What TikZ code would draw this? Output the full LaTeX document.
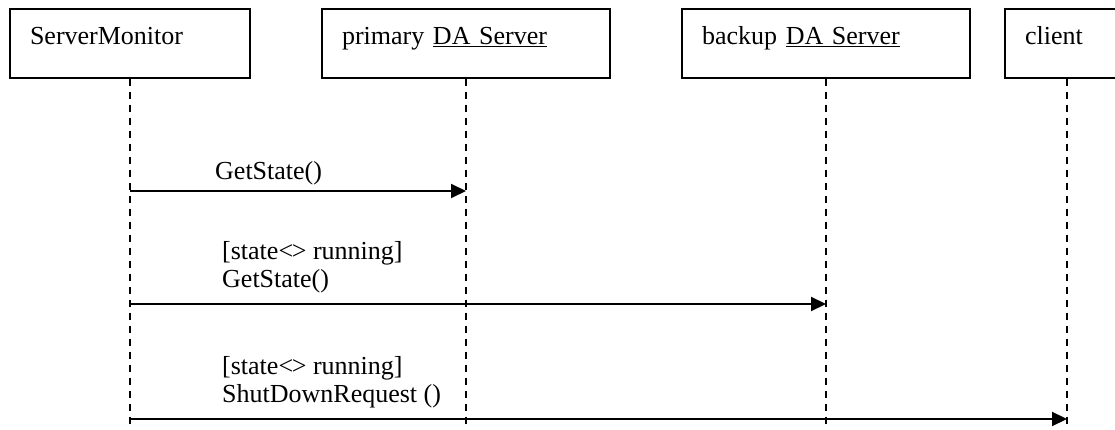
\documentclass[tikz,border=0pt]{standalone}
\usepackage{fontspec}
\setmainfont{Liberation Serif}
\usetikzlibrary{arrows.meta}

\begin{document}
\begin{tikzpicture}[x=1pt, y=-1pt]
      \useasboundingbox (0,0) rectangle (1115,430);
      \clip (0,0) rectangle (1115,430);
      \tikzstyle{lifeline}=[line width=1.3pt, dash pattern=on 7pt off 6pt]
      \tikzstyle{msgarrow}=[line width=2pt, -{Triangle[length=15pt, width=14pt]}]

      % objects and their lifelines
      {\tikzstyle{every node}=[rectangle, draw, line width=1.3pt, align=left,
          inner xsep=20pt, inner ysep=0pt, text height=36pt, text depth=33pt,
          font=\fontsize{26}{28}\selectfont]
        \foreach \i/\x/\w/\txt in {1/130/240/ServerMonitor,
            2/466/288/{primary \underline{DA Server}},
            3/826/288/{backup \underline{DA Server}},
            4/1067/124/client}
        {
          \pgfmathsetmacro\tw{\w-40}
          \node[text width=\tw pt] (obj\i) at (\x, 43.5) {\txt};
          \coordinate (end\i) at (\x, 432);
          \draw[lifeline] (obj\i) -- (end\i);
        }
      }

      % messages
      \coordinate (m1s) at (130, 191);
      \coordinate (m1e) at (466, 191);
      \coordinate (m2s) at (130, 304);
      \coordinate (m2e) at (826, 304);
      \coordinate (m3s) at (130, 419);
      \coordinate (m3e) at (1067, 419);

      \draw[msgarrow] (m1s) -- (m1e);
      \draw[msgarrow] (m2s) -- (m2e);
      \draw[msgarrow] (m3s) -- (m3e);

      {\tikzstyle{every node}=[inner sep=0pt, anchor=base west,
          font=\fontsize{26}{28}\selectfont]
        \node (lab1) at (215, 180) {GetState()};
        \node (lab2a) at (222, 259) {[state<\kern-0.05em> running]};
        \node (lab2b) at (222, 287) {GetState()};
        \node (lab3a) at (222, 374) {[state<\kern-0.05em> running]};
        \node (lab3b) at (222, 402) {ShutDownRequest ()};
      }
    \end{tikzpicture}
\end{document}
